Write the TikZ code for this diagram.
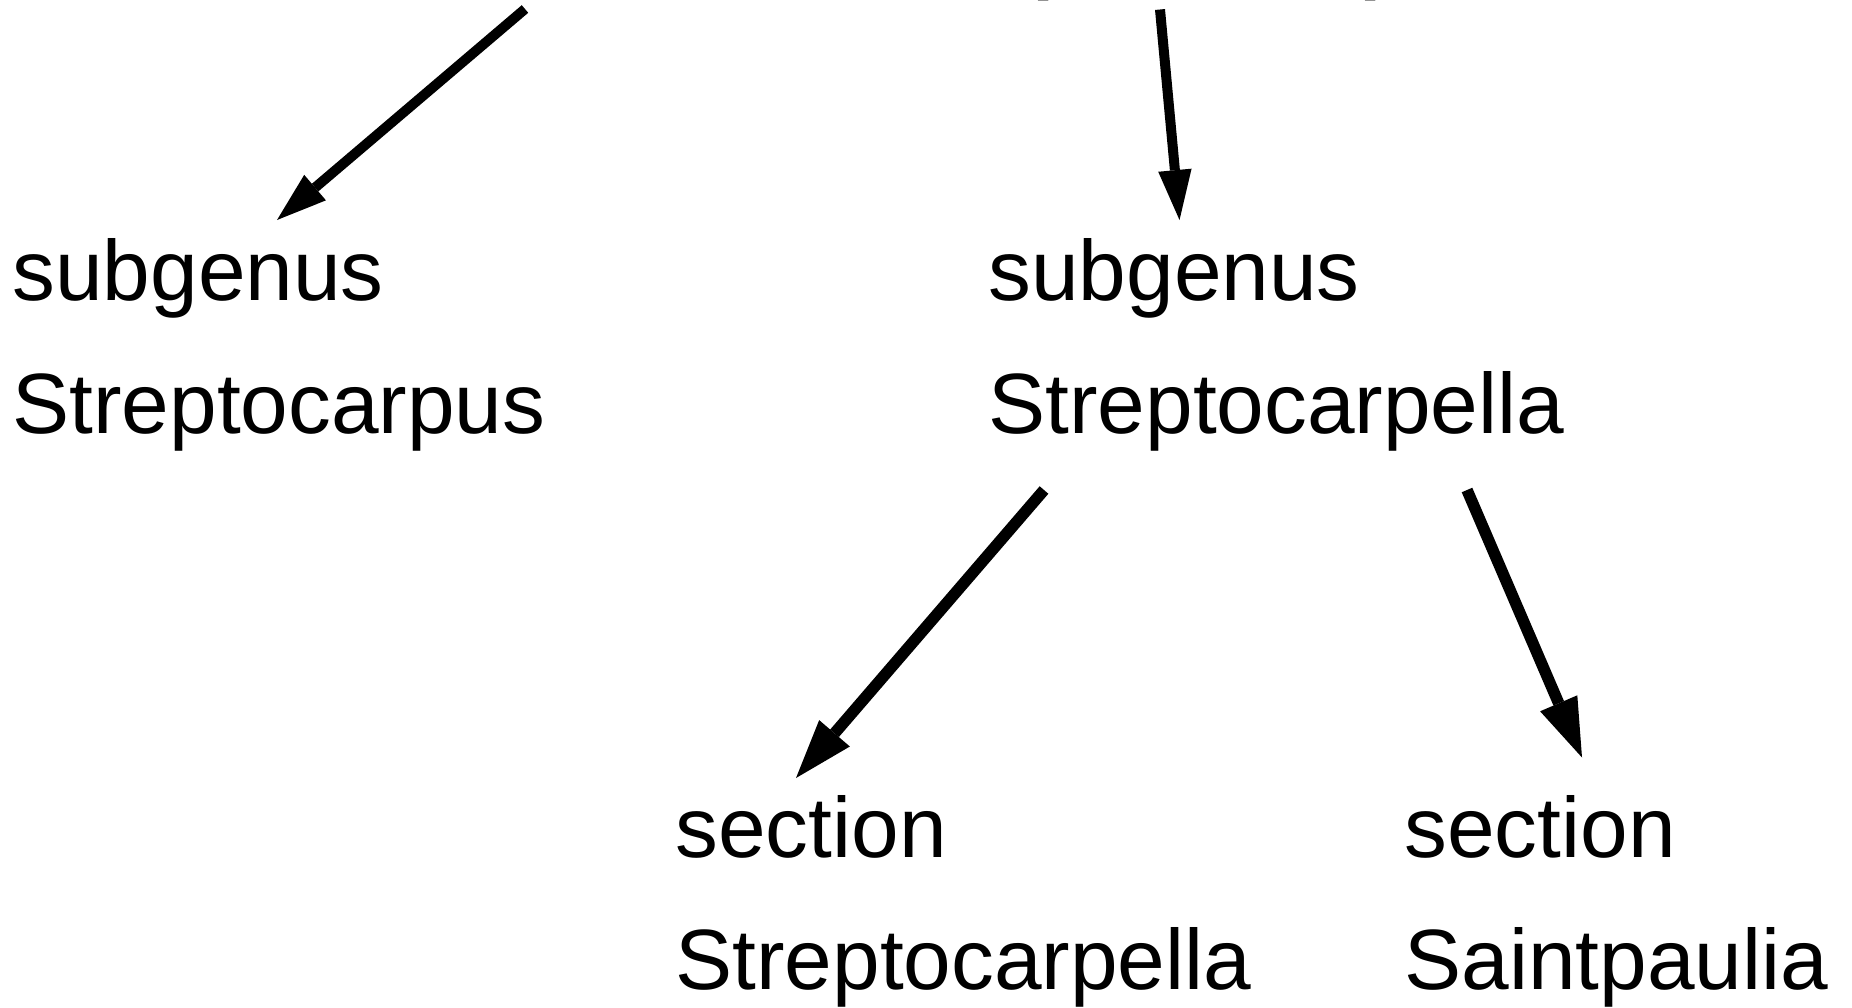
\documentclass[tikz,border=0pt]{standalone}
\usepackage{fontspec}
\setmainfont{Liberation Sans}
\usetikzlibrary{arrows.meta}
\begin{document}
\begin{tikzpicture}[x=1pt,y=-1pt,
  taxon/.style={anchor=base west, inner sep=0pt, outer sep=0pt, align=left,
    font=\fontsize{85.6pt}{132.5pt}\selectfont},
  upperarrow/.style={line width=10pt, -{Triangle[length=50pt,width=33.5pt,line width=0pt]}},
  lowerarrow/.style={line width=11.5pt, -{Triangle[length=59pt,width=40.5pt,line width=0pt]}}]
\useasboundingbox (0,0) rectangle (1852,1007);

% parent node, almost wholly above the page (only its descenders peek in)
\node[anchor=base west, inner sep=0pt, font=\fontsize{117.7pt}{140pt}\selectfont] (genus) at (814.4,-23.5) {Streptocarpus};

% base anchor of a two-line node lies on its last line
\node[taxon] (sgA) at (12.5,433) {subgenus\\Streptocarpus};
\node[taxon] (sgB) at (988.5,433) {subgenus\\Streptocarpella};
\node[taxon] (secA) at (675.5,989.5) {section\\Streptocarpella};
\node[taxon] (secB) at (1404.5,989.5) {section\\Saintpaulia};

% connector ends
\coordinate (g1) at (525,9);
\coordinate (g2) at (1160,9.5);
\coordinate (b1) at (1044,490);
\coordinate (b2) at (1467,490);
\coordinate (sgAin) at (277,220);
\coordinate (sgBin) at (1179.5,220);
\coordinate (secAin) at (796,778);
\coordinate (secBin) at (1582,757.5);

\draw[upperarrow] (g1) -- (sgAin);
\draw[upperarrow] (g2) -- (sgBin);
\draw[lowerarrow] (b1) -- (secAin);
\draw[lowerarrow] (b2) -- (secBin);
\end{tikzpicture}
\end{document}
